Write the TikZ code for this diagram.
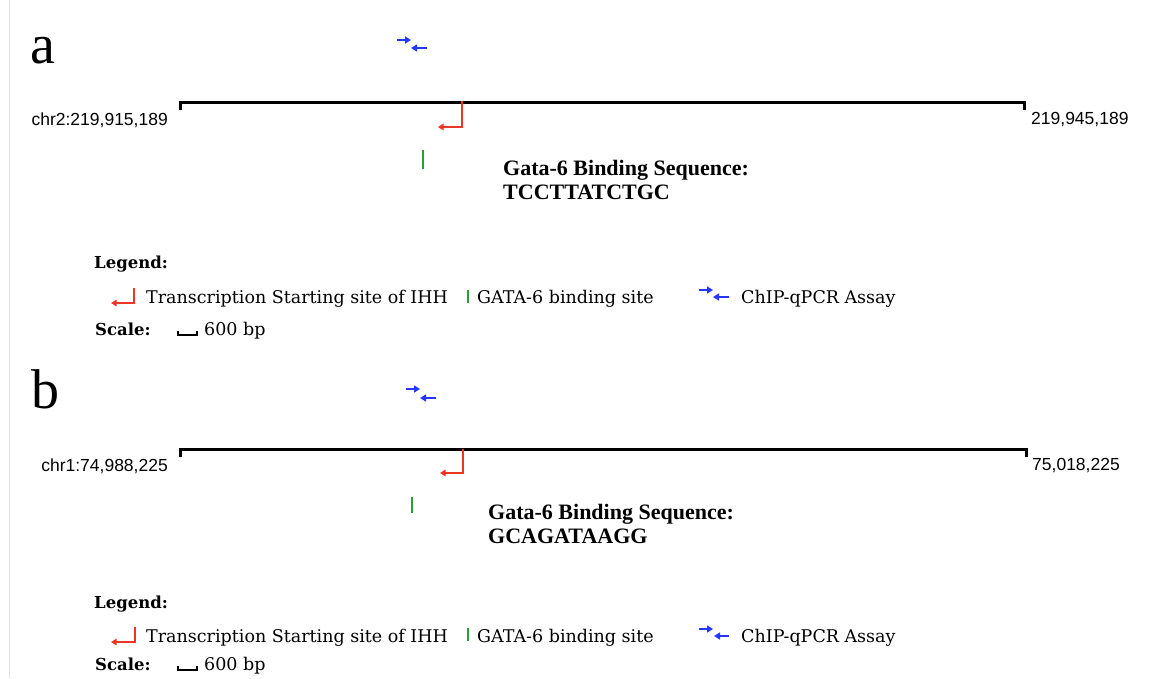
\documentclass[tikz,border=0pt]{standalone}
\usepackage{fontspec}
\usetikzlibrary{arrows.meta}
\newfontfamily\panelfont{Liberation Serif}
\newfontfamily\coordfont{Liberation Sans}
\newfontfamily\legfont{DejaVu Serif}
\definecolor{tssred}{RGB}{238,52,36}
\definecolor{gatagreen}{RGB}{40,160,50}
\definecolor{primerblue}{RGB}{35,55,255}
\definecolor{edgegray}{RGB}{228,228,228}
\tikzset{
  track/.style={line width=3pt, black},
  tss/.style={line width=2pt, tssred, -{Triangle[length=5.5pt,width=6.5pt]}},
  gatabar/.style={line width=2pt, gatagreen},
  primer/.style={line width=2.2pt, primerblue, -{Triangle[length=6pt,width=7pt]}},
  paneltag/.style={inner sep=0pt, anchor=base west, font=\panelfont\fontsize{56}{56}\selectfont},
  coordlabel/.style={inner sep=0pt, font=\coordfont\fontsize{17.5}{18}\selectfont},
  seqtext/.style={inner sep=0pt, anchor=base west, font=\panelfont\bfseries\fontsize{22}{24}\selectfont},
  legtitle/.style={inner sep=0pt, anchor=base west, font=\legfont\bfseries\fontsize{16.5}{18}\selectfont},
  legtext/.style={inner sep=0pt, anchor=base west, font=\legfont\fontsize{17.5}{18}\selectfont},
  scalebar/.style={line width=1.5pt, black}
}
\begin{document}
\begin{tikzpicture}[x=1pt,y=-1pt]
\useasboundingbox (0,0) rectangle (1157,678);
\fill[white] (0,0) rectangle (1157,678);
\draw[edgegray, line width=1pt] (9.5,0) -- (9.5,678);

% ---------- panel a ----------
\node[paneltag] (tagA) at (30,63) {a};
\draw[primer] (397,40) -- (411,40);
\draw[primer] (427,48) -- (411,48);
\coordinate (trA0) at (180,102);
\coordinate (trA1) at (1024,102);
\draw[track] ([yshift=-8pt]trA0) -- (trA0) -- (trA1) -- ([yshift=-8pt]trA1);
\node[coordlabel, anchor=east] (startA) at (168,120) {chr2:219,915,189};
\node[coordlabel, anchor=west] (endA) at (1031,120) {219,945,189};
\draw[tss] (462,101) -- (462,127) -- (438,127);
\draw[gatabar] (423,150) -- (423,169);
\node[seqtext] (seqA1) at (503,175) {Gata-6 Binding Sequence:};
\node[seqtext] (seqA2) at (503,199) {TCCTTATCTGC};

\node[legtitle] (legA) at (94,268) {Legend:};
\draw[tss] (134,288) -- (134,303) -- (111,303);
\node[legtext] (tssA) at (146,303) {Transcription Starting site of IHH};
\draw[gatabar] (468,290) -- (468,303);
\node[legtext] (gataA) at (477,303) {GATA-6 binding site};
\draw[primer] (699,290) -- (713,290);
\draw[primer] (729,297) -- (713,297);
\node[legtext] (chipA) at (741,303) {ChIP-qPCR Assay};
\node[legtitle] (scaleA) at (95,335) {Scale:};
\draw[scalebar] (178,331) -- (178,335) -- (197,335) -- (197,331);
\node[legtext] (bpA) at (204,335) {600 bp};

% ---------- panel b ----------
\node[paneltag] (tagB) at (31,408) {b};
\draw[primer] (406,389) -- (420,389);
\draw[primer] (436,398) -- (420,398);
\coordinate (trB0) at (180,449);
\coordinate (trB1) at (1026,449);
\draw[track] ([yshift=-8pt]trB0) -- (trB0) -- (trB1) -- ([yshift=-8pt]trB1);
\node[coordlabel, anchor=east] (startB) at (168,466) {chr1:74,988,225};
\node[coordlabel, anchor=west] (endB) at (1032,466) {75,018,225};
\draw[tss] (463,449) -- (463,473) -- (440,473);
\draw[gatabar] (412,497) -- (412,513);
\node[seqtext] (seqB1) at (488,519) {Gata-6 Binding Sequence:};
\node[seqtext] (seqB2) at (488,543) {GCAGATAAGG};

\node[legtitle] (legB) at (94,608) {Legend:};
\draw[tss] (135,627) -- (135,642) -- (111,642);
\node[legtext] (tssB) at (146,642) {Transcription Starting site of IHH};
\draw[gatabar] (468,628) -- (468,641);
\node[legtext] (gataB) at (477,642) {GATA-6 binding site};
\draw[primer] (699,629) -- (713,629);
\draw[primer] (729,636) -- (714,636);
\node[legtext] (chipB) at (741,642) {ChIP-qPCR Assay};
\node[legtitle] (scaleB) at (95,670) {Scale:};
\draw[scalebar] (178,666) -- (178,670) -- (197,670) -- (197,666);
\node[legtext] (bpB) at (204,670) {600 bp};
\end{tikzpicture}
\end{document}
